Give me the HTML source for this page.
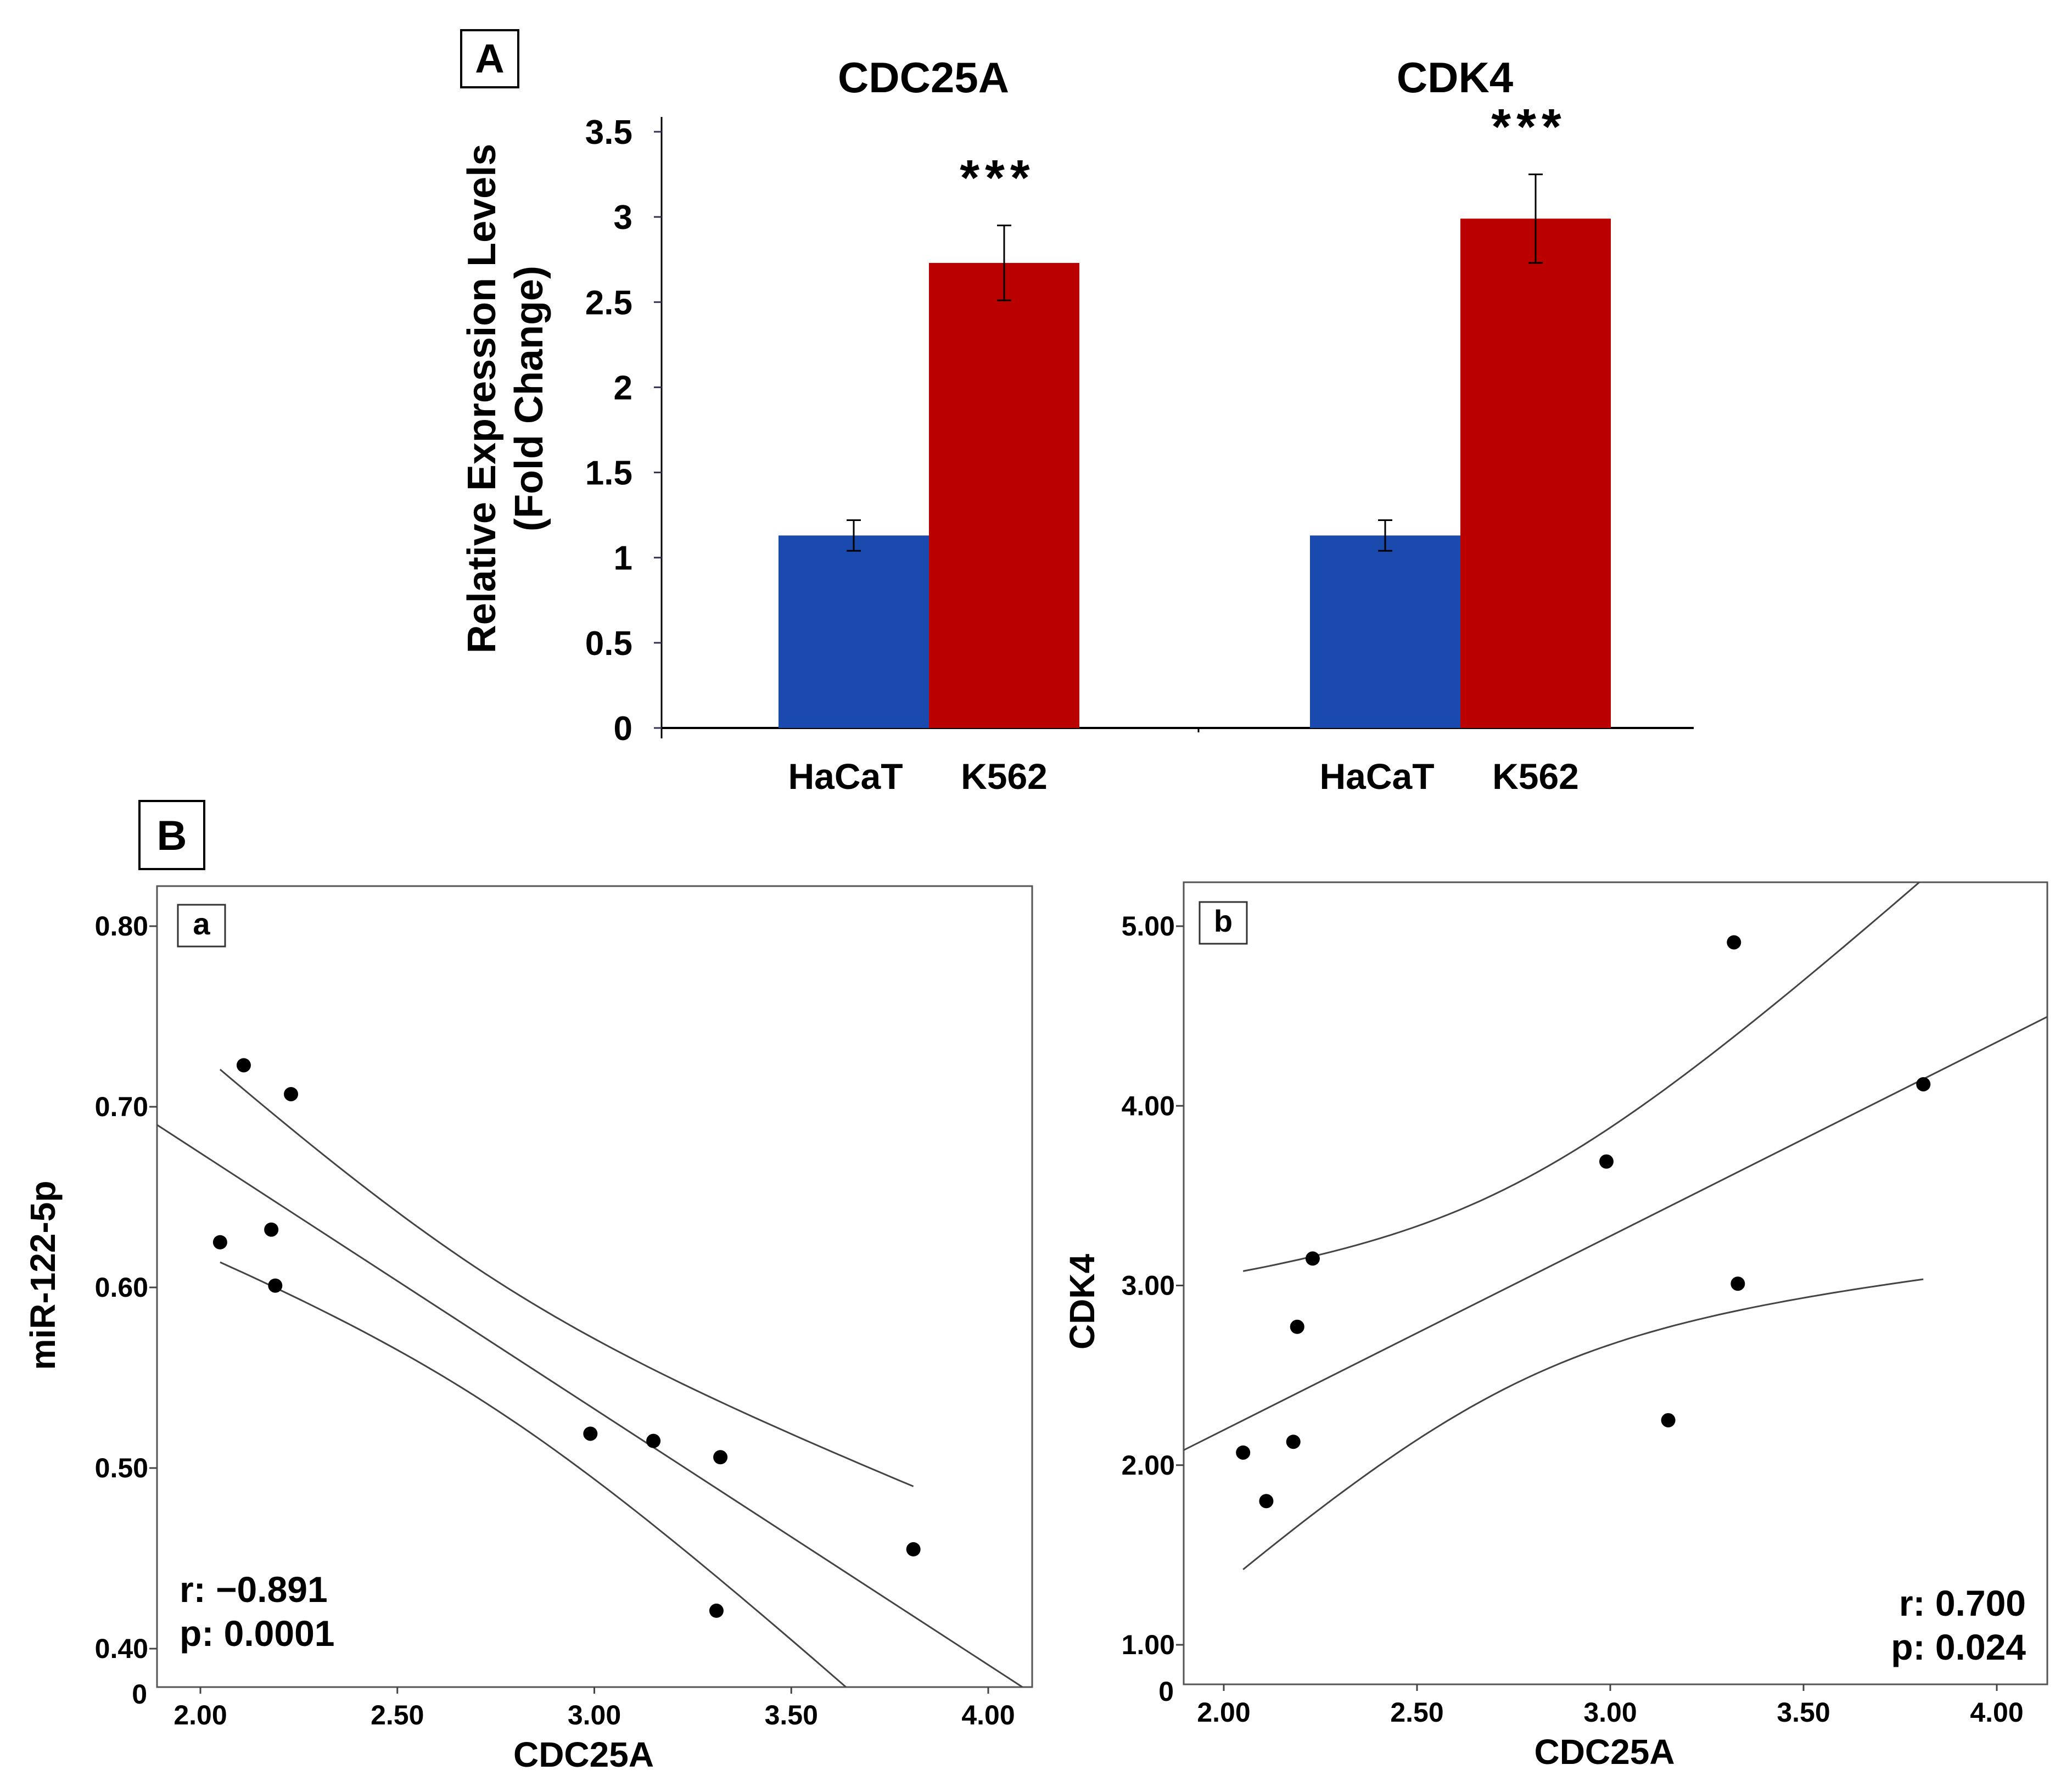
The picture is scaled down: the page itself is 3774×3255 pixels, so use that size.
<!DOCTYPE html>
<html><head><meta charset="utf-8"><style>
html,body{margin:0;padding:0;background:#fff;}
svg{display:block;font-family:"Liberation Sans",Arial,sans-serif;}
</style></head><body>
<svg id="fig" width="3774" height="3255" viewBox="0 0 3774 3255" xmlns="http://www.w3.org/2000/svg">
<rect width="3774" height="3255" fill="#fff"/>
<g id="pa"></g>
<g id="pb"></g>
</svg>
<script>
// ---- Panel A data ----
const barGenes = ["CDC25A", "CDK4"];
const barGroups = ["HaCaT", "K562"];
const haCaTValues = [1.13, 1.13];
const haCaTErrors = [0.09, 0.09];
const k562Values = [2.73, 2.99];
const k562Errors = [0.22, 0.26];
const barTicks = [0, 0.5, 1, 1.5, 2, 2.5, 3, 3.5];
const barTickLabels = ["0", "0.5", "1", "1.5", "2", "2.5", "3", "3.5"];

// ---- Panel B data ----
const cdc25aA = [2.05, 2.11, 2.23, 2.18, 2.19, 2.99, 3.15, 3.32, 3.31, 3.81];
const mir122 = [0.625, 0.723, 0.707, 0.632, 0.601, 0.519, 0.515, 0.506, 0.421, 0.455];
const cdc25aB = [2.05, 2.11, 2.18, 2.19, 2.23, 2.99, 3.15, 3.32, 3.33, 3.81];
const cdk4 = [2.07, 1.80, 2.13, 2.77, 3.15, 3.69, 2.25, 4.91, 3.01, 4.12];
const xTicksB = [2.0, 2.5, 3.0, 3.5, 4.0];
const yTicksA = [0.4, 0.5, 0.6, 0.7, 0.8];
const yTicksB = [1, 2, 3, 4, 5];

const NS = "http://www.w3.org/2000/svg";
function mk(parent, tag, attrs, text) {
  const e = document.createElementNS(NS, tag);
  for (const k in attrs) e.setAttribute(k, attrs[k]);
  if (text !== undefined) e.textContent = text;
  parent.appendChild(e);
  return e;
}
const pa = document.getElementById('pa');
const pb = document.getElementById('pb');

// ---------- Panel A ----------
(function () {
  const y0 = 1326, yTop = 240; // 0 and 3.5
  const yA = v => y0 - (v / 3.5) * (y0 - yTop);
  const axX = 1205;
  let e;
  e = mk(pa, 'rect', {x: 840, y: 55, width: 104, height: 104, fill: 'none', stroke: '#000', 'stroke-width': 4});
  
  
  e = mk(pa, 'text', {x: 892, y: 132, 'font-size': 74, 'font-weight': 'bold', 'text-anchor': 'middle'}, 'A');
  
  
  e = mk(pa, 'line', {x1: axX, y1: 213, x2: axX, y2: 1345, stroke: '#000', 'stroke-width': 3});
  
  
  e = mk(pa, 'line', {x1: axX, y1: y0, x2: 3085, y2: y0, stroke: '#000', 'stroke-width': 4});
  
  
  mk(pa, 'line', {x1: 2183, y1: y0, x2: 2183, y2: y0 + 8, stroke: '#000', 'stroke-width': 3});
  barTicks.forEach((t, i) => {
    const y = yA(t);
    const tk = mk(pa, 'line', {x1: axX - 14, y1: y, x2: axX, y2: y, stroke: '#335', 'stroke-width': 3});
    
    
    const lb = mk(pa, 'text', {x: 1152, y: y + 22, 'font-size': 62, 'font-weight': 'bold', 'text-anchor': 'end'}, barTickLabels[i]);
    
    
  });
  const yt = mk(pa, 'text', {transform: 'translate(902,726) rotate(-90)', 'font-size': 72, 'font-weight': 'bold', 'text-anchor': 'middle'}, 'Relative  Expression Levels');
  
  
  const yt2 = mk(pa, 'text', {transform: 'translate(988,726) rotate(-90)', 'font-size': 72, 'font-weight': 'bold', 'text-anchor': 'middle'}, '(Fold Change)');
  
  
  const groupStart = [1418, 2386];
  const bw = 274;
  barGenes.forEach((g, i) => {
    const xs = groupStart[i];
    const t = mk(pa, 'text', {x: xs + bw - 10, y: 168, 'font-size': 78, 'font-weight': 'bold', 'text-anchor': 'middle'}, g);
    
    
    const vals = [haCaTValues[i], k562Values[i]];
    const errs = [haCaTErrors[i], k562Errors[i]];
    const cols = ['#1a4aad', '#bb0000'];
    vals.forEach((v, j) => {
      const x = xs + j * bw;
      const r = mk(pa, 'rect', {x: x, y: yA(v), width: bw + (j === 0 ? 1 : 0), height: y0 - yA(v), fill: cols[j]});
      
      
      const cx = x + bw / 2;
      const eb = mk(pa, 'path', {d: `M${cx},${yA(v + errs[j])}V${yA(v - errs[j])}M${cx - 13},${yA(v + errs[j])}H${cx + 13}M${cx - 13},${yA(v - errs[j])}H${cx + 13}`, stroke: '#000', 'stroke-width': 3, fill: 'none'});
      
      
      const lb = mk(pa, 'text', {x: cx + (j === 0 ? -15 : 0), y: 1437, 'font-size': 66, 'font-weight': 'bold', 'text-anchor': 'middle'}, barGroups[j]);
      
      
      if (j === 1) {
        const st = mk(pa, 'text', {x: cx - 12, y: yA(v + errs[j]) - 55, 'font-size': 92, 'font-weight': 'bold', 'text-anchor': 'middle', 'letter-spacing': 10}, '***');
        
        
      }
    });
  });
})();

// ---------- Panel B ----------
(function () {
  let e = mk(pb, 'rect', {x: 254, y: 1459, width: 118, height: 124, fill: 'none', stroke: '#000', 'stroke-width': 4});
  
  
  e = mk(pb, 'text', {x: 313, y: 1548, 'font-size': 76, 'font-weight': 'bold', 'text-anchor': 'middle'}, 'B');
  
  
})();

function scatter(cfg, xs, ys, yTicks) {
  const g = mk(pb, 'g', {});
  
  
  const X = v => cfg.x2px + (v - 2) / 2 * (cfg.x4px - cfg.x2px);
  const Y = v => cfg.yLoPx - (v - cfg.yLo) / (cfg.yHi - cfg.yLo) * (cfg.yLoPx - cfg.yHiPx);
  const clipId = cfg.name + '-clip';
  const cp = mk(g, 'clipPath', {id: clipId});
  mk(cp, 'rect', {x: cfg.fx, y: cfg.fy, width: cfg.fw, height: cfg.fh});
  const fr = mk(g, 'rect', {x: cfg.fx, y: cfg.fy, width: cfg.fw, height: cfg.fh, fill: 'none', stroke: '#555', 'stroke-width': 3});
  
  
  yTicks.forEach(t => {
    const y = Y(t);
    mk(g, 'line', {x1: cfg.fx - 14, y1: y, x2: cfg.fx, y2: y, stroke: '#444', 'stroke-width': 3});
    const l = mk(g, 'text', {x: cfg.fx - 16, y: y + 17, 'font-size': 50, 'font-weight': 'bold', 'text-anchor': 'end'}, t.toFixed(2));
    
    
  });
  xTicksB.forEach(t => {
    const x = X(t);
    mk(g, 'line', {x1: x, y1: cfg.fy + cfg.fh, x2: x, y2: cfg.fy + cfg.fh + 12, stroke: '#444', 'stroke-width': 3});
    const l = mk(g, 'text', {x: x, y: cfg.fy + cfg.fh + 68, 'font-size': 50, 'font-weight': 'bold', 'text-anchor': 'middle'}, t.toFixed(2));
    
    
  });
  let z = mk(g, 'text', {x: cfg.fx - 18, y: cfg.fy + cfg.fh + 30, 'font-size': 50, 'font-weight': 'bold', 'text-anchor': 'end'}, '0');
  
  
  z = mk(g, 'text', {x: cfg.fx + cfg.fw / 2 - 20, y: cfg.fy + cfg.fh + 145, 'font-size': 64, 'font-weight': 'bold', 'text-anchor': 'middle'}, 'CDC25A');
  
  
  z = mk(g, 'text', {transform: `translate(${cfg.ytx},${cfg.yty}) rotate(-90)`, 'font-size': 64, 'font-weight': 'bold', 'text-anchor': 'middle'}, cfg.ytitle);
  
  
  z = mk(g, 'rect', {x: cfg.bx, y: cfg.by, width: 86, height: 76, fill: '#fff', stroke: '#333', 'stroke-width': 3});
  
  
  z = mk(g, 'text', {x: cfg.bx + 43, y: cfg.by + 54, 'font-size': 56, 'font-weight': 'bold', 'text-anchor': 'middle'}, cfg.sub);
  
  
  const n = xs.length;
  const mx = xs.reduce((a, b) => a + b) / n, my = ys.reduce((a, b) => a + b) / n;
  let sxx = 0, sxy = 0;
  for (let i = 0; i < n; i++) { sxx += (xs[i] - mx) ** 2; sxy += (xs[i] - mx) * (ys[i] - my); }
  const b = sxy / sxx, a = my - b * mx;
  let sse = 0;
  for (let i = 0; i < n; i++) sse += (ys[i] - a - b * xs[i]) ** 2;
  const s = Math.sqrt(sse / (n - 2)), tq = 2.306;
  const xmin = Math.min(...xs), xmax = Math.max(...xs);
  const lo = 1.85, hi = 4.2;
  const fl = mk(g, 'line', {x1: X(lo), y1: Y(a + b * lo), x2: X(hi), y2: Y(a + b * hi), stroke: '#444', 'stroke-width': 3, 'clip-path': `url(#${clipId})`});
  
  
  [1, -1].forEach(sg => {
    let d = '';
    for (let k = 0; k <= 60; k++) {
      const xv = xmin + (xmax - xmin) * k / 60;
      const yv = a + b * xv + sg * tq * s * Math.sqrt(1 / n + (xv - mx) ** 2 / sxx);
      d += (k ? 'L' : 'M') + X(xv).toFixed(1) + ',' + Y(yv).toFixed(1);
    }
    const p = mk(g, 'path', {d: d, fill: 'none', stroke: '#444', 'stroke-width': 3, 'clip-path': `url(#${clipId})`});
    
    
  });
  for (let i = 0; i < n; i++) {
    const c = mk(g, 'circle', {cx: X(xs[i]), cy: Y(ys[i]), r: 13, fill: '#000'});
    
    
  }
  z = mk(g, 'text', {x: cfg.rx, y: cfg.ry, 'font-size': 66, 'font-weight': 'bold', 'text-anchor': cfg.ranchor}, cfg.rtext);
  
  
  z = mk(g, 'text', {x: cfg.rx, y: cfg.ry + 80, 'font-size': 66, 'font-weight': 'bold', 'text-anchor': cfg.ranchor}, cfg.ptext);
  
  
}

scatter({name: 'scatter-a', fx: 286, fy: 1614, fw: 1594, fh: 1459, x2px: 365, x4px: 1800,
  yLo: 0.4, yHi: 0.8, yLoPx: 3003, yHiPx: 1687, ytitle: 'miR-122-5p', ytx: 100, yty: 2323,
  sub: 'a', bx: 324, by: 1648, rx: 327, ry: 2918, ranchor: 'start', rtext: 'r: \u22120.891', ptext: 'p: 0.0001'},
  cdc25aA, mir122, yTicksA);
scatter({name: 'scatter-b', fx: 2156, fy: 1607, fw: 1573, fh: 1461, x2px: 2229, x4px: 3637,
  yLo: 1, yHi: 5, yLoPx: 2996, yHiPx: 1687, ytitle: 'CDK4', ytx: 1993, yty: 2371,
  sub: 'b', bx: 2185, by: 1643, rx: 3690, ry: 2943, ranchor: 'end', rtext: 'r: 0.700', ptext: 'p: 0.024'},
  cdc25aB, cdk4, yTicksB);
</script>
</body></html>
